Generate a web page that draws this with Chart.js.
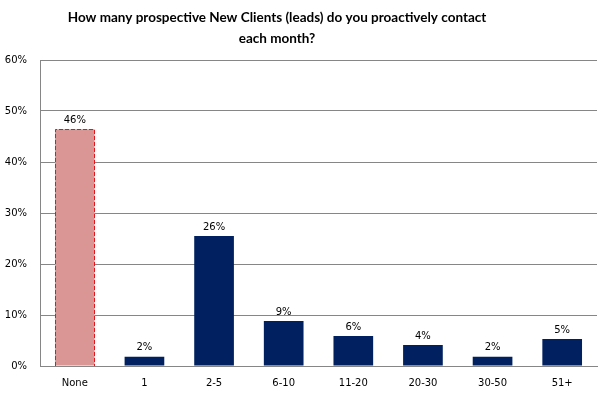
<!DOCTYPE html>
<html>
<head>
<meta charset="utf-8">
<script src="https://cdn.jsdelivr.net/npm/chart.js@4/dist/chart.umd.min.js"></script>
<style>
  html, body { margin: 0; padding: 0; background: #fff; }
  #wrap { width: 602px; height: 397px; position: relative; }
</style>
</head>
<body>
<div id="wrap"><canvas id="c" width="602" height="397"></canvas></div>
<script>
const titleLines = ["How many prospective New Clients (leads) do you proactively contact", "each month?"];
const categories = ["None", "1", "2-5", "6-10", "11-20", "20-30", "30-50", "51+"];
const values = [46.4, 1.8, 25.5, 8.8, 5.9, 4.1, 1.8, 5.3];
const labels = ["46%", "2%", "26%", "9%", "6%", "4%", "2%", "5%"];
const yTicks = [0, 10, 20, 30, 40, 50, 60];

const fillColors = categories.map((c, i) => i === 0 ? "#D99694" : "#002060");

const titlePlugin = {
  id: "customTitle",
  afterDraw(chart) {
    const ctx = chart.ctx;
    ctx.save();
    ctx.fillStyle = "#000";
    ctx.font = "bold 13.5px Lato";
    ctx.textAlign = "center";
    ctx.textBaseline = "middle";
    ctx.fillText(titleLines[0], 277, 18);
    ctx.fillText(titleLines[1], 277, 39);
    ctx.restore();
  }
};

const barExtras = {
  id: "barExtras",
  afterDatasetsDraw(chart) {
    const ctx = chart.ctx;
    const meta = chart.getDatasetMeta(0);
    ctx.save();
    const b0 = meta.data[0];
    const w = b0.width;
    ctx.strokeStyle = "#E8141C";
    ctx.lineWidth = 1;
    ctx.setLineDash([4, 2]);
    const x0 = Math.round(b0.x - w / 2) + 0.5;
    const x1 = Math.round(b0.x + w / 2) - 0.5;
    const yt = Math.round(b0.y) + 0.5;
    const yb = Math.round(b0.base);
    ctx.beginPath();
    ctx.moveTo(x0, yb);
    ctx.lineTo(x0, yt);
    ctx.lineTo(x1, yt);
    ctx.lineTo(x1, yb);
    ctx.stroke();
    ctx.setLineDash([]);
    ctx.fillStyle = "#000";
    ctx.font = "10px 'DejaVu Sans'";
    ctx.textAlign = "center";
    ctx.textBaseline = "middle";
    meta.data.forEach((el, i) => {
      ctx.fillText(labels[i], el.x, el.y - 9);
    });
    ctx.restore();
  }
};

new Chart(document.getElementById("c"), {
  type: "bar",
  data: {
    labels: categories,
    datasets: [{
      data: values,
      backgroundColor: fillColors,
      borderWidth: 0,
      barPercentage: 0.57,
      categoryPercentage: 1.0
    }]
  },
  options: {
    responsive: false,
    animation: false,
    devicePixelRatio: 1,
    layout: { padding: { top: 60, right: 5, left: 0, bottom: 0 } },
    plugins: {
      legend: { display: false },
      title: { display: false },
      tooltip: { enabled: false }
    },
    scales: {
      x: {
        grid: { display: false, drawTicks: false },
        border: { display: true, color: "#868686", width: 1 },
        ticks: { color: "#000", font: { family: "DejaVu Sans", size: 10 }, padding: 11, maxRotation: 0 },
        afterFit(scale) { scale.height = 31; }
      },
      y: {
        min: 0,
        max: 60,
        afterBuildTicks(scale) { scale.ticks = yTicks.map(v => ({ value: v })); },
        grid: { color: "#868686", lineWidth: 1, drawTicks: false },
        border: { display: true, color: "#868686", width: 1 },
        ticks: {
          color: "#000",
          font: { family: "DejaVu Sans", size: 10 },
          padding: 13,
          callback: v => v + "%"
        },
        afterFit(scale) { scale.width = 40; }
      }
    }
  },
  plugins: [titlePlugin, barExtras]
});
</script>
</body>
</html>
